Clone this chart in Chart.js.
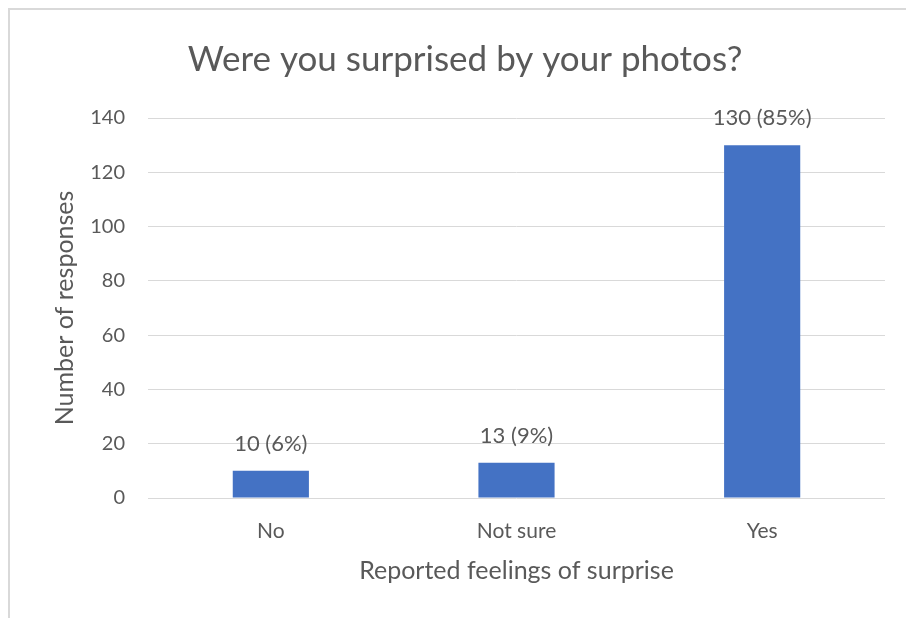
<!DOCTYPE html>
<html>
<head>
<meta charset="utf-8">
<script src="https://cdn.jsdelivr.net/npm/chart.js@4"></script>
<style>
  html, body { margin: 0; padding: 0; background: #fff; overflow: hidden; }
  #frame { position: absolute; left: 8px; top: 8px; width: 1000px; height: 1000px;
           border-left: 2px solid #d9d9d9; border-top: 2px solid #d9d9d9; }
  #graphique { position: absolute; left: 0; top: 0; }
</style>
</head>
<body>
<div id="frame"></div>
<canvas id="graphique" width="906" height="618"></canvas>
<script>
const categories = ["No", "Not sure", "Yes"];
const responses = [10, 13, 130];
const labels = ["10 (6%)", "13 (9%)", "130 (85%)"];
const yTicks = [0, 20, 40, 60, 80, 100, 120, 140];

const textColor = "#595959";
const gridColor = "#d9d9d9";
const fontFamily = "Lato, sans-serif";

// Etiquettes de données au-dessus des barres
const barLabels = {
    id: "barLabels",
    afterDatasetsDraw(chart) {
        const ctx = chart.ctx;
        const meta = chart.getDatasetMeta(0);
        ctx.save();
        ctx.font = "22px " + fontFamily;
        ctx.fillStyle = textColor;
        ctx.textAlign = "center";
        ctx.textBaseline = "middle";
        meta.data.forEach((bar, i) => {
            ctx.fillText(labels[i], bar.x, bar.y - 27);
        });
        ctx.restore();
    }
};

const ctx = document.getElementById("graphique").getContext("2d");
new Chart(ctx, {
    type: "bar",
    data: {
        labels: categories,
        datasets: [{
            data: responses,
            backgroundColor: "#4472c4",
            barPercentage: 0.62,
            categoryPercentage: 0.5
        }]
    },
    options: {
        responsive: false,
        animation: false,
        layout: { padding: { left: 45, right: 21, top: 0, bottom: 0 } },
        plugins: {
            legend: { display: false },
            tooltip: { enabled: false },
            title: {
                display: true,
                text: "Were you surprised by your photos?",
                color: textColor,
                font: { family: fontFamily, size: 35, weight: "normal" },
                padding: { top: 39, bottom: 37 }
            }
        },
        scales: {
            x: {
                grid: { display: false },
                border: { display: false },
                ticks: { color: textColor, font: { family: fontFamily, size: 21 }, padding: 13 },
                title: {
                    display: true,
                    text: "Reported feelings of surprise",
                    color: textColor,
                    font: { family: fontFamily, size: 25 },
                    padding: { top: 0, bottom: 32 }
                },
                afterFit(scale) { scale.height = 120; }
            },
            y: {
                min: 0,
                max: 140,
                afterBuildTicks(scale) { scale.ticks = yTicks.map(v => ({ value: v })); },
                grid: { color: gridColor, lineWidth: 1, drawTicks: false },
                border: { display: false },
                ticks: { color: textColor, font: { family: fontFamily, size: 20 }, padding: 23 },
                title: {
                    display: true,
                    text: "Number of responses",
                    color: textColor,
                    font: { family: fontFamily, size: 25 },
                    padding: { top: 5, bottom: 0 }
                },
                afterFit(scale) { scale.width = 103; }
            }
        }
    },
    plugins: [barLabels]
});
</script>
</body>
</html>
